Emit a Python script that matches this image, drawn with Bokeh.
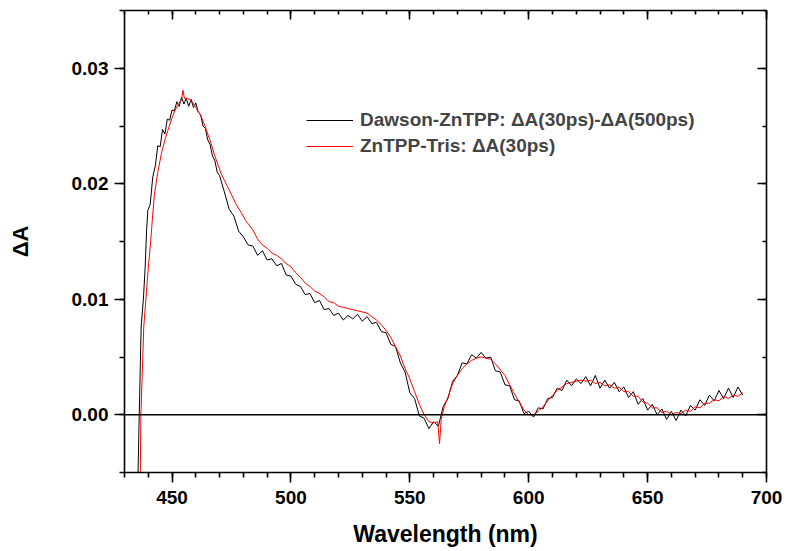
from bokeh.plotting import figure
from bokeh.models import (LinearAxis, SingleIntervalTicker, Span, Legend, LegendItem,
                          NumeralTickFormatter, ColumnDataSource)
from bokeh.embed import file_html
from bokeh.resources import INLINE

# ---------------- data ----------------
black_x = [435.4, 436.2, 437.0, 438.0, 438.7, 439.3, 439.8, 440.8, 441.9,
           443, 444, 445, 446, 447, 448, 449, 450, 451, 452, 453, 454, 455, 456,
           457, 458, 459, 460, 461, 462, 463, 464, 465, 466, 467, 468, 469, 470,
           472, 474, 476, 478, 480, 482, 484, 486, 488, 490, 492, 494, 496, 498,
           500, 502, 504, 506, 508, 510, 512, 514, 516, 518, 520, 522, 524, 526,
           528, 530, 532, 534, 536, 538, 540, 542, 544, 546, 548, 550, 552, 554,
           556, 558, 560, 562, 564, 566, 568, 570, 572, 574, 576, 578, 580, 582,
           584, 586, 588, 590, 592, 594, 596, 598, 600, 602, 604, 606, 608, 610,
           612, 614, 616, 618, 620, 622, 624, 626, 628, 630, 632, 634, 636, 638,
           640, 642, 644, 646, 648, 650, 652, 654, 656, 658, 660, 662, 664, 666,
           668, 670, 672, 674, 676, 678, 680, 682, 684, 686, 688, 690]
black_y = [-0.0080, 0.0000, 0.0076, 0.0102, 0.0128, 0.0160, 0.0177, 0.0182, 0.0206,
           0.0216, 0.0233, 0.0232, 0.0247, 0.0243, 0.0256, 0.0255, 0.0264, 0.0263,
           0.0271, 0.0267, 0.0275, 0.0269, 0.0274, 0.0267, 0.0273, 0.0266, 0.0270,
           0.0262, 0.0260, 0.0250, 0.0248, 0.0238, 0.0234, 0.0224, 0.0220, 0.0210,
           0.0207,
           0.0193, 0.0178, 0.0172, 0.0159, 0.0154, 0.0147, 0.0146, 0.0138, 0.0142,
           0.0134, 0.0135, 0.0129, 0.0131, 0.0121, 0.0120, 0.0113, 0.0111, 0.0104,
           0.0105, 0.0097, 0.0099, 0.0091, 0.0092, 0.0086, 0.0088, 0.0082, 0.0086,
           0.0083, 0.0087, 0.0081, 0.0085, 0.0079, 0.0080, 0.0072, 0.0071, 0.0061,
           0.0059, 0.0045, 0.0037, 0.0019, 0.0014, -0.0001, -0.0003, -0.0012,
           -0.0006, -0.0010, 0.0007, 0.0014, 0.0029, 0.0034, 0.0045, 0.0044, 0.0052,
           0.0049, 0.0054, 0.0049, 0.0050, 0.0038, 0.0037, 0.0026, 0.0025, 0.0013,
           0.0012, 0.0001, 0.0003, -0.0002, 0.0006, 0.0005, 0.0014, 0.0015, 0.0023,
           0.0021, 0.0030, 0.0025, 0.0031, 0.0027, 0.0033, 0.0025, 0.0034, 0.0023,
           0.0030, 0.0023, 0.0028, 0.0020, 0.0024, 0.0015, 0.0020, 0.0009, 0.0014,
           0.0004, 0.0009, 0.0000, 0.0005, -0.0004, 0.0003, -0.0005, 0.0004,
           -0.0001, 0.0008, 0.0004, 0.0013, 0.0008, 0.0017, 0.0012, 0.0021, 0.0014,
           0.0023, 0.0015, 0.0024, 0.0017]

red_x = [436.5, 436.9, 438.1, 439.0, 439.8, 441.0, 441.9, 442.6, 444, 445.5, 447,
         448.2, 450, 451.1, 452.5, 454, 454.6, 455.2, 456.5, 458.1, 460, 462.3, 464,
         466.4, 468, 470.6, 472, 474.9, 477, 479.1, 481, 484, 486, 488, 490, 492,
         494, 496, 498, 500, 502, 504, 506, 508, 510, 512, 514, 516, 518, 520, 522,
         524, 526, 528, 530, 532, 534, 536, 538, 540, 542, 544, 546, 548, 550, 552,
         554, 556, 558, 560, 561.7, 562.5, 563.2, 564.5, 566, 568, 570, 572, 574,
         576, 578, 580, 582, 584, 586, 588, 590, 592, 594, 596, 598, 600, 602, 604,
         606, 608, 610, 612, 614, 616, 618, 620, 622, 624, 626, 628, 630, 632, 634,
         636, 638, 640, 642, 644, 646, 648, 650, 652, 654, 656, 658, 660, 662, 664,
         666, 668, 670, 672, 674, 676, 678, 680, 682, 684, 686, 688, 690]
red_y = [-0.0080, 0.0000, 0.0076, 0.0100, 0.0122, 0.0150, 0.0174, 0.0191, 0.0210,
         0.0226, 0.0238, 0.0246, 0.0257, 0.0263, 0.0268, 0.0273, 0.0281, 0.0274,
         0.0274, 0.0272, 0.0266, 0.0258, 0.0249, 0.0235, 0.0224, 0.0209, 0.0203,
         0.0191, 0.0182, 0.0175, 0.0168, 0.0160, 0.0152, 0.0147, 0.0144, 0.0140,
         0.0138, 0.0135, 0.0131, 0.0128, 0.0123, 0.0119, 0.0114, 0.0111, 0.0107,
         0.0105, 0.0102, 0.0098, 0.0097, 0.0094, 0.0093, 0.0092, 0.0091, 0.0090,
         0.0089, 0.0088, 0.0085, 0.0082, 0.0078, 0.0073, 0.0067, 0.0059, 0.0051,
         0.0040, 0.0031, 0.0020, 0.0009, 0.0000, -0.0006, -0.0007, -0.0006, -0.0025,
         -0.0004, 0.0007, 0.0015, 0.0027, 0.0034, 0.0040, 0.0044, 0.0047, 0.0049,
         0.0050, 0.0049, 0.0048, 0.0044, 0.0039, 0.0034, 0.0026, 0.0018, 0.0011,
         0.0004, 0.0000, 0.0000, 0.0003, 0.0007, 0.0012, 0.0017, 0.0021, 0.0024,
         0.0027, 0.0028, 0.0029, 0.0030, 0.0029, 0.0030, 0.0027, 0.0028, 0.0025,
         0.0026, 0.0023, 0.0024, 0.0020, 0.0020, 0.0016, 0.0016, 0.0011, 0.0010,
         0.0006, 0.0006, 0.0002, 0.0003, 0.0000, 0.0002, 0.0001, 0.0004, 0.0003,
         0.0007, 0.0006, 0.0010, 0.0010, 0.0013, 0.0012, 0.0016, 0.0014, 0.0017,
         0.0016, 0.0019, 0.0019]

label_black = "Dawson-ZnTPP: \u0394A(30ps)-\u0394A(500ps)"
label_red = "ZnTPP-Tris: \u0394A(30ps)"
x_title = "Wavelength (nm)"
y_title = "\u0394A"

FONT = "Liberation Sans"

p = figure(width=787, height=551, x_range=(430, 700), y_range=(-0.005, 0.035),
           output_backend="svg", toolbar_location=None,
           min_border_left=124, min_border_right=21, min_border_top=10,
           min_border_bottom=79)
p.grid.visible = False
p.outline_line_color = None
p.background_fill_color = "white"
p.border_fill_color = "white"

xt = SingleIntervalTicker(interval=50, num_minor_ticks=5)
yt = SingleIntervalTicker(interval=0.01, num_minor_ticks=2)

def style_axis(ax, outward, show_labels):
    ax.axis_line_width = 1.6
    ax.axis_line_color = "black"
    ax.major_tick_line_width = 1.6
    ax.minor_tick_line_width = 1.6
    ax.major_tick_line_color = "black"
    ax.minor_tick_line_color = "black"
    if outward:
        ax.major_tick_out = 10
        ax.major_tick_in = 0
        ax.minor_tick_out = 5
        ax.minor_tick_in = 0
    else:
        ax.major_tick_out = 0
        ax.major_tick_in = 9
        ax.minor_tick_out = 0
        ax.minor_tick_in = 4
    if show_labels:
        ax.major_label_text_font = FONT
        ax.major_label_text_font_style = "bold"
        ax.major_label_text_font_size = "19px"
        ax.major_label_text_color = "black"
        ax.axis_label_text_font = FONT
        ax.axis_label_text_font_style = "bold"
        ax.axis_label_text_font_size = "23px"
        ax.axis_label_text_color = "black"
    else:
        ax.major_label_text_font_size = "1px"
        ax.major_label_text_color = None
        ax.major_label_standoff = 0

xa = p.xaxis[0]
xa.ticker = xt
xa.axis_label = x_title
style_axis(xa, True, True)
xa.major_label_standoff = 8
xa.axis_label_standoff = 14

ya = p.yaxis[0]
ya.ticker = yt
ya.axis_label = y_title
ya.formatter = NumeralTickFormatter(format="0.00")
style_axis(ya, True, True)
ya.major_label_standoff = 6
ya.axis_label_standoff = 36
ya.axis_label_text_font_size = "22px"

top = LinearAxis(ticker=SingleIntervalTicker(interval=50, num_minor_ticks=5))
style_axis(top, False, False)
p.add_layout(top, "above")
right = LinearAxis(ticker=SingleIntervalTicker(interval=0.01, num_minor_ticks=2))
style_axis(right, False, False)
p.add_layout(right, "right")

p.add_layout(Span(location=0, dimension="width", line_color="black", line_width=1.5))

src_b = ColumnDataSource(dict(x=black_x, y=black_y))
src_r = ColumnDataSource(dict(x=red_x, y=red_y))
rb = p.line("x", "y", source=src_b, line_color="black", line_width=1)
rr = p.line("x", "y", source=src_r, line_color="#ff0000", line_width=1)

legend = Legend(items=[LegendItem(label=label_black, renderers=[rb]),
                       LegendItem(label=label_red, renderers=[rr])],
                location=(182, 315), border_line_color=None,
                background_fill_alpha=0, padding=0, margin=0,
                label_text_font=FONT, label_text_font_style="bold",
                label_text_font_size="19px", glyph_width=47, glyph_height=20,
                label_standoff=7, spacing=4, label_height=20)
p.add_layout(legend)

open("out.html", "w").write(file_html(p, INLINE))
